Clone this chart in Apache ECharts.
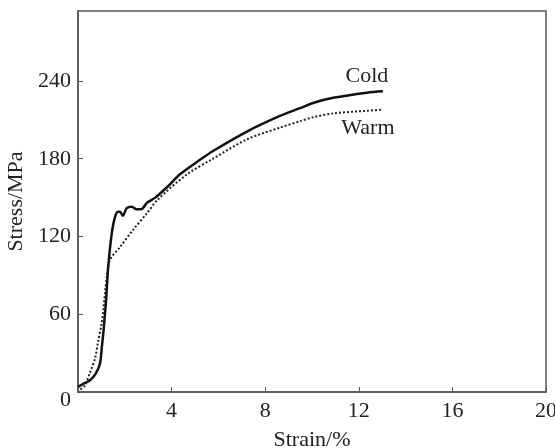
<html>
<head>
<meta charset="utf-8"/>
<title>Stress-strain</title>
<script src="https://cdn.jsdelivr.net/npm/echarts@6/dist/echarts.min.js"></script>
<style>
  body { margin: 0; background: #fff; }
  #main { width: 555px; height: 448px; }
</style>
</head>
<body>
<div id="main"></div>
<script type="text/javascript">
    // strain (%) / stress (MPa) pairs
    var coldStrain = [0, 0.3, 0.51, 0.75, 0.94, 1.02, 1.08, 1.2, 1.29, 1.44, 1.58, 1.71, 1.8, 1.91, 2.09, 2.3, 2.5, 2.7, 2.95, 3.3, 3.8, 4.36, 5.2, 5.77, 7.22, 8.63, 9.49, 10.04, 10.9, 12.35, 13.03];
    var coldStress = [4, 7, 9, 14, 22, 35, 45, 71, 96, 122, 135, 139, 139, 136, 142, 143, 141, 141, 146, 150, 158, 168, 179, 186, 201, 213, 219, 223, 227, 231, 232];

    var warmStrain = [0.1, 0.3, 0.51, 0.73, 0.85, 1.0, 1.08, 1.23, 1.37, 1.8, 2.35, 2.95, 3.38, 4.66, 5.77, 7.22, 8.63, 9.49, 10.04, 10.9, 12.35, 13.03];
    var warmStress = [2, 5, 15, 26, 38, 52, 63, 89, 102, 112, 125, 138, 148, 168, 180, 195, 204, 209, 212, 215, 217, 218];

    var xTicks = [0, 4, 8, 12, 16, 20];
    var yTicks = [0, 60, 120, 180, 240];

    function pairs(xs, ys) {
        var out = [];
        for (var i = 0; i < xs.length; i++) out.push([xs[i], ys[i]]);
        return out;
    }

    var font = "'Liberation Serif', 'Times New Roman', serif";
    var axisColor = '#555';
    var fs = 22;

    var myChart = echarts.init(document.getElementById('main'));
    var option = {
        animation: false,
        textStyle: { fontFamily: font },
        grid: {
            left: 78, right: 9, top: 11, bottom: 56,
            outerBoundsMode: 'none', containLabel: false,
            show: true, borderColor: axisColor, borderWidth: 1.5
        },
        xAxis: {
            type: 'value',
            min: xTicks[0], max: xTicks[xTicks.length - 1], interval: 4,
            name: 'Strain/%', nameLocation: 'middle', nameGap: 37,
            nameTextStyle: { fontFamily: font, fontSize: fs, color: '#222' },
            axisLine: { lineStyle: { color: axisColor, width: 1.5 } },
            axisTick: { inside: true, length: 5, lineStyle: { color: axisColor } },
            axisLabel: { showMinLabel: false, fontFamily: font, fontSize: fs, color: '#222', margin: 8 },
            splitLine: { show: false }
        },
        yAxis: {
            type: 'value',
            min: yTicks[0], max: 294, interval: 60,
            name: 'Stress/MPa', nameLocation: 'middle', nameGap: 48,
            nameTextStyle: { fontFamily: font, fontSize: fs, color: '#222' },
            axisLine: { lineStyle: { color: axisColor, width: 1.5 } },
            axisTick: { inside: true, length: 5, lineStyle: { color: axisColor } },
            axisLabel: {
                showMaxLabel: false, fontFamily: font, fontSize: fs, color: '#222', margin: 7,
                formatter: function (v) { return v === 0 ? '{z|0}' : String(v); },
                rich: { z: { fontFamily: font, fontSize: fs, color: '#222', padding: [16, 0, 0, 0] } }
            },
            splitLine: { show: false }
        },
        series: [{
            name: 'Cold',
            type: 'line',
            smooth: 0.3,
            showSymbol: false,
            data: pairs(coldStrain, coldStress),
            lineStyle: { color: '#111', width: 2.5, type: 'solid' },
            endLabel: {
                show: true, formatter: '{a}', distance: 0, align: 'center', verticalAlign: 'middle',
                offset: [-16, -15], fontFamily: font, fontSize: fs, color: '#222'
            }
        }, {
            name: 'Warm',
            type: 'line',
            smooth: 0.3,
            showSymbol: false,
            data: pairs(warmStrain, warmStress),
            lineStyle: { color: '#222', width: 2, type: [2, 2] },
            endLabel: {
                show: true, formatter: '{a}', distance: 0, align: 'center', verticalAlign: 'middle',
                offset: [-15, 19], fontFamily: font, fontSize: fs, color: '#222'
            }
        }]
    };
    myChart.setOption(option);
</script>
</body>
</html>
